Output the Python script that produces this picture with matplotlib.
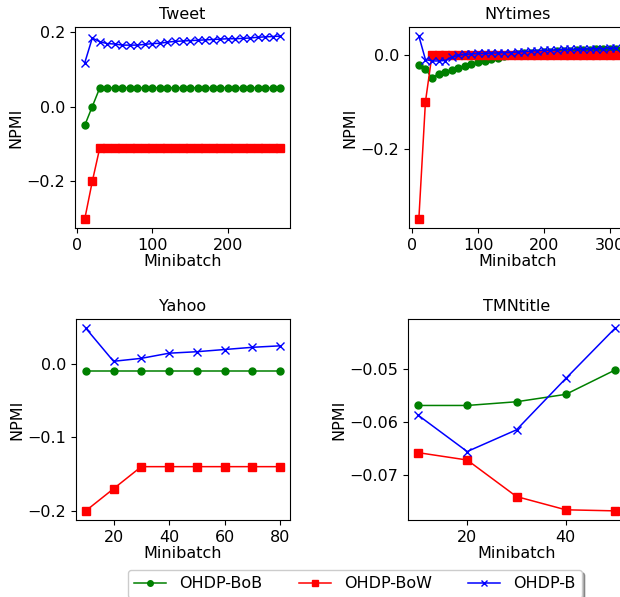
import matplotlib
matplotlib.use("Agg")
import matplotlib.pyplot as plt

# Data
tweet_x = [10, 20, 30, 40, 50, 60, 70, 80, 90, 100, 110, 120, 130, 140,
           150, 160, 170, 180, 190, 200, 210, 220, 230, 240, 250, 260, 270]
tweet_bob = [-0.05, 0.0, 0.05, 0.05, 0.05, 0.05, 0.05, 0.05, 0.05, 0.05,
             0.05, 0.05, 0.05, 0.05, 0.05, 0.05, 0.05, 0.05, 0.05, 0.05,
             0.05, 0.05, 0.05, 0.05, 0.05, 0.05, 0.05]
tweet_bow = [-0.30, -0.20, -0.11, -0.11, -0.11, -0.11, -0.11, -0.11, -0.11,
             -0.11, -0.11, -0.11, -0.11, -0.11, -0.11, -0.11, -0.11, -0.11,
             -0.11, -0.11, -0.11, -0.11, -0.11, -0.11, -0.11, -0.11, -0.11]
tweet_b = [0.117, 0.183, 0.173, 0.168, 0.167, 0.164, 0.164, 0.164, 0.166,
           0.168, 0.169, 0.172, 0.174, 0.175, 0.176, 0.177, 0.178, 0.179,
           0.180, 0.181, 0.181, 0.182, 0.183, 0.185, 0.186, 0.187, 0.188]

nyt_x = [10, 20, 30, 40, 50, 60, 70, 80, 90, 100, 110, 120, 130, 140, 150,
         160, 170, 180, 190, 200, 210, 220, 230, 240, 250, 260, 270, 280,
         290, 300, 310]
nyt_bob = [-0.021, -0.030, -0.050, -0.040, -0.037, -0.032, -0.028, -0.023,
           -0.019, -0.016, -0.013, -0.009, -0.006, -0.003, -0.001, 0.001,
           0.003, 0.004, 0.005, 0.006, 0.007, 0.008, 0.009, 0.009, 0.010,
           0.011, 0.011, 0.012, 0.012, 0.013, 0.013]
nyt_bow = [-0.35, -0.10, 0.0, 0.0, 0.0, 0.0, 0.0, 0.0, 0.0, 0.0, 0.0, 0.0,
           0.0, 0.0, 0.0, 0.0, 0.0, 0.0, 0.0, 0.0, 0.0, 0.0, 0.0, 0.0, 0.0,
           0.0, 0.0, 0.0, 0.0, 0.0, 0.0]
nyt_b = [0.040, -0.010, -0.013, -0.013, -0.012, -0.005, -0.001, 0.001,
         0.002, 0.003, 0.003, 0.004, 0.004, 0.005, 0.005, 0.006, 0.007,
         0.008, 0.009, 0.010, 0.010, 0.011, 0.012, 0.012, 0.012, 0.012,
         0.013, 0.013, 0.013, 0.014, 0.014]

yahoo_x = [10, 20, 30, 40, 50, 60, 70, 80]
yahoo_bob = [-0.01, -0.01, -0.01, -0.01, -0.01, -0.01, -0.01, -0.01]
yahoo_bow = [-0.20, -0.17, -0.14, -0.14, -0.14, -0.14, -0.14, -0.14]
yahoo_b = [0.048, 0.003, 0.007, 0.014, 0.016, 0.019, 0.022, 0.024]

tmn_x = [10, 20, 30, 40, 50]
tmn_bob = [-0.0568, -0.0568, -0.0561, -0.0547, -0.0501]
tmn_bow = [-0.0657, -0.0671, -0.0740, -0.0765, -0.0767]
tmn_b = [-0.0586, -0.0655, -0.0614, -0.0517, -0.0422]

panels = [
    ("Tweet", tweet_x, tweet_bob, tweet_bow, tweet_b, [0, 100, 200], [-0.2, 0.0, 0.2]),
    ("NYtimes", nyt_x, nyt_bob, nyt_bow, nyt_b, [0, 100, 200, 300], [-0.2, 0.0]),
    ("Yahoo", yahoo_x, yahoo_bob, yahoo_bow, yahoo_b, [20, 40, 60, 80], [-0.2, -0.1, 0.0]),
    ("TMNtitle", tmn_x, tmn_bob, tmn_bow, tmn_b, [20, 40], [-0.07, -0.06, -0.05]),
]

# axes boxes in pixels: left, top, width, height (figure is cropped on the right)
boxes = [(75, 27, 215, 201), (409, 27, 217, 201), (76, 319, 214, 201), (408, 319, 217, 201)]

W, H = 620, 597
FS = 11.5
fig = plt.figure(figsize=(W / 100, H / 100), dpi=100)

for (title, x, bob, bow, b, xt, yt), (l, t, w, h) in zip(panels, boxes):
    ax = fig.add_axes([l / W, 1 - (t + h) / H, w / W, h / H])
    ax.plot(x, bob, color='g', marker='o', ms=5, lw=1.1, label='OHDP-BoB')
    ax.plot(x, bow, color='r', marker='s', ms=5.5, lw=1.1, label='OHDP-BoW')
    ax.plot(x, b, color='b', marker='x', ms=5.5, lw=1.1, label='OHDP-B')
    ax.set_title(title, fontsize=FS)
    ax.set_xlabel('Minibatch', fontsize=FS, labelpad=1)
    ax.set_ylabel('NPMI', fontsize=FS, labelpad=2)
    ax.set_xticks(xt)
    ax.set_yticks(yt)
    ax.tick_params(labelsize=FS)

handles, labels = ax.get_legend_handles_labels()
fig.legend(handles, labels, loc='upper left', ncol=3, fontsize=FS,
           bbox_to_anchor=(128 / W, 1 - 570 / H), borderaxespad=0,
           shadow=True, markerscale=0.8, columnspacing=2.3,
           handlelength=2.0, handletextpad=0.8)

fig.savefig('out.png', dpi=100)
